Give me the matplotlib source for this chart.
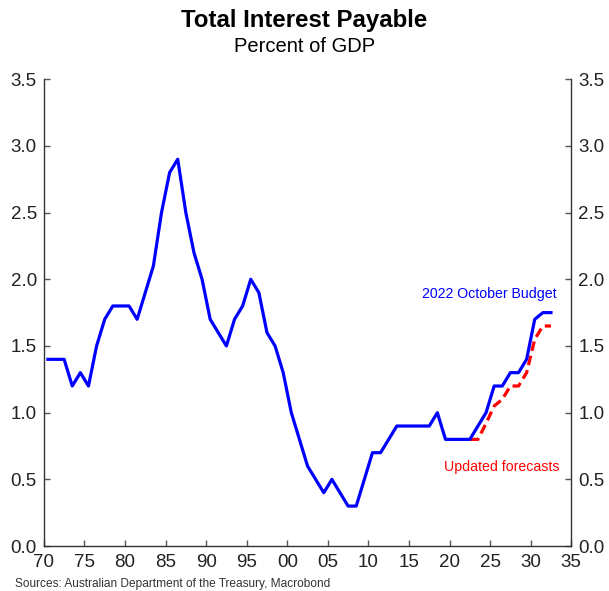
import matplotlib.pyplot as plt
from matplotlib.ticker import MultipleLocator, FuncFormatter

plt.rcParams['font.family'] = ['Liberation Sans', 'DejaVu Sans']

# fiscal years (start year), plotted mid-year
budget_years = list(range(1970, 2033))
budget_vals = [1.4, 1.4, 1.4, 1.2, 1.3, 1.2, 1.5, 1.7, 1.8, 1.8,
               1.8, 1.7, 1.9, 2.1, 2.5, 2.8, 2.9, 2.5, 2.2, 2.0,
               1.7, 1.6, 1.5, 1.7, 1.8, 2.0, 1.9, 1.6, 1.5, 1.3,
               1.0, 0.8, 0.6, 0.5, 0.4, 0.5, 0.4, 0.3, 0.3, 0.5,
               0.7, 0.7, 0.8, 0.9, 0.9, 0.9, 0.9, 0.9, 1.0, 0.8,
               0.8, 0.8, 0.8, 0.9, 1.0, 1.2, 1.2, 1.3, 1.3, 1.4,
               1.7, 1.75, 1.75]

update_years = list(range(2022, 2033))
update_vals = [0.8, 0.8, 0.92, 1.05, 1.1, 1.2, 1.2, 1.3, 1.55, 1.65, 1.65]

fig = plt.figure(figsize=(6.09, 5.91), dpi=100)
ax = fig.add_axes([0.072, 0.076, 0.866, 0.79])

ax.plot([y + 0.5 for y in update_years], update_vals, color='#ff0000', lw=2.3,
        linestyle=(0, (3, 1.6)))
ax.plot([y + 0.5 for y in budget_years], budget_vals, color='#0000ff', lw=2.3)

ax.set_xlim(1970, 2035)
ax.set_ylim(0, 3.5)
ax.xaxis.set_major_locator(MultipleLocator(5))
ax.xaxis.set_major_formatter(FuncFormatter(lambda v, p: f"{int(round(v)) % 100:02d}"))
ax.yaxis.set_major_locator(MultipleLocator(0.5))
ax.yaxis.set_major_formatter(FuncFormatter(lambda v, p: f"{v:.1f}"))

ax.spines['top'].set_visible(False)
for side in ['left', 'right', 'bottom']:
    ax.spines[side].set_color('#333333')
    ax.spines[side].set_linewidth(1.0)

ax.tick_params(axis='both', direction='in', length=4, width=1, color='#555555',
               labelsize=13.5, labelcolor='#222222')
ax.tick_params(axis='x', pad=6)
ax.tick_params(axis='y', right=True, labelright=True, pad=5)

ax.text(2033.2, 1.84, '2022 October Budget', color='#0000ff', fontsize=10.2, ha='right', va='bottom')
ax.text(2033.6, 0.54, 'Updated forecasts', color='#ff0000', fontsize=10.2, ha='right', va='bottom')

fig.text(0.5, 0.965, 'Total Interest Payable', ha='center', va='center',
         fontsize=17.3, fontweight='bold')
fig.text(0.5, 0.922, 'Percent of GDP', ha='center', va='center', fontsize=14.5)
fig.text(0.025, 0.002, 'Sources: Australian Department of the Treasury, Macrobond',
         ha='left', va='bottom', fontsize=8.6, color='#333333')

fig.savefig('out.png', dpi=100)
